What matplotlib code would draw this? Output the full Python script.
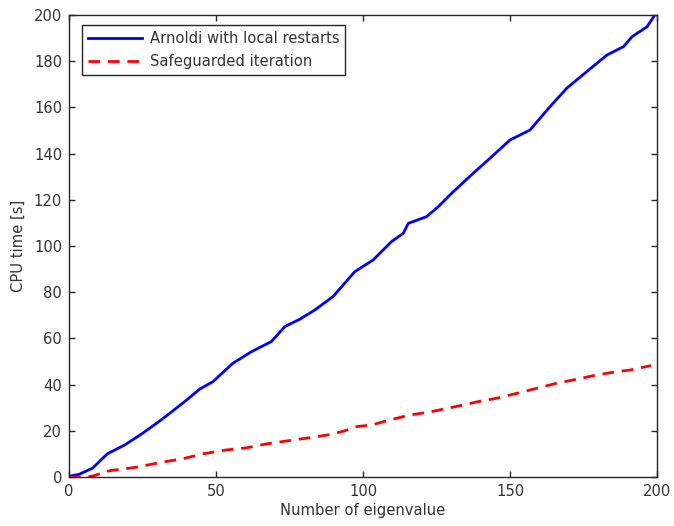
import matplotlib
matplotlib.use("Agg")
import matplotlib.pyplot as plt

plt.rcParams['font.family'] = ['DejaVu Sans']

# Arnoldi with local restarts
arnoldi_x = [0, 3.5, 8, 13, 19, 25, 31, 35, 40, 44.4, 49, 55.7, 62, 68.8, 73.4, 78.5,
             83.6, 89.8, 97.2, 103.4, 109.7, 113.7, 115.4, 121.6, 125.6, 130.7, 137.5,
             143.2, 150, 156.8, 163.1, 169.3, 176.1, 183, 188.6, 191.5, 196.6, 199]
arnoldi_y = [0.3, 1.2, 3.8, 10, 13.9, 18.9, 24.4, 28.3, 33.3, 38, 41.3, 49.2, 54.2, 58.6,
             65.1, 68.3, 72.3, 78.1, 88.9, 93.9, 101.9, 105.5, 109.8, 112.7, 117.0, 123.5,
             131.5, 138, 145.9, 150.2, 159.6, 168.3, 175.5, 182.7, 186.3, 190.6, 194.9, 199.5]

# Safeguarded iteration
safe_x = [0, 6, 8.3, 13.7, 22.8, 30.8, 38.7, 45.5, 53.5, 60.3, 67.1, 76.2, 83, 89.8, 93.8,
          97.8, 102.9, 109.1, 115.9, 123.3, 131.3, 138.7, 145.5, 152.3, 159.1, 165.9,
          172.7, 179.6, 186.4, 190.9, 196, 198]
safe_y = [0, 0, 0.5, 2.7, 4.2, 6.2, 7.9, 10, 11.7, 12.6, 14.3, 16, 17.2, 18.6, 20, 21.8,
          22.5, 24.7, 26.8, 28.3, 30.4, 32.5, 34.1, 36.2, 38.4, 40.6, 42.3, 44.2, 45.6,
          46.3, 47.7, 48.2]

fs = 10.6
txt = '#333333'

fig = plt.figure(figsize=(6.74, 5.26), dpi=100)
ax = fig.add_axes([0.1024, 0.0932, 0.8724, 0.8783])

ax.plot(arnoldi_x, arnoldi_y, color='#0000ff', lw=2.0, solid_joinstyle='round',
        label='Arnoldi with local restarts')
ax.plot(safe_x, safe_y, color='#ff0000', lw=2.0, ls=(0, (4.2, 2.8)),
        label='Safeguarded iteration')

ax.set_xlim(0, 200)
ax.set_ylim(0, 200)
ax.set_xticks([0, 50, 100, 150, 200])
ax.set_yticks(range(0, 201, 20))
ax.tick_params(direction='in', top=True, right=True, length=4, width=1,
               labelsize=fs, colors='#262626', labelcolor=txt, pad=5)
for sp in ax.spines.values():
    sp.set_linewidth(1.0)
    sp.set_color('#262626')

ax.set_xlabel('Number of eigenvalue', fontsize=fs, color=txt, labelpad=3)
ax.set_ylabel('CPU time [s]', fontsize=fs, color=txt, labelpad=6)

leg = ax.legend(loc='upper left', bbox_to_anchor=(13 / 588, 1 - 10 / 462),
                borderaxespad=0, fontsize=fs, fancybox=False, framealpha=1,
                edgecolor='#262626', handlelength=3.7, labelspacing=0.55,
                borderpad=0.4, handletextpad=0.5)
leg.get_frame().set_linewidth(1.0)
for t in leg.get_texts():
    t.set_color(txt)

fig.savefig('out.png', dpi=100)
